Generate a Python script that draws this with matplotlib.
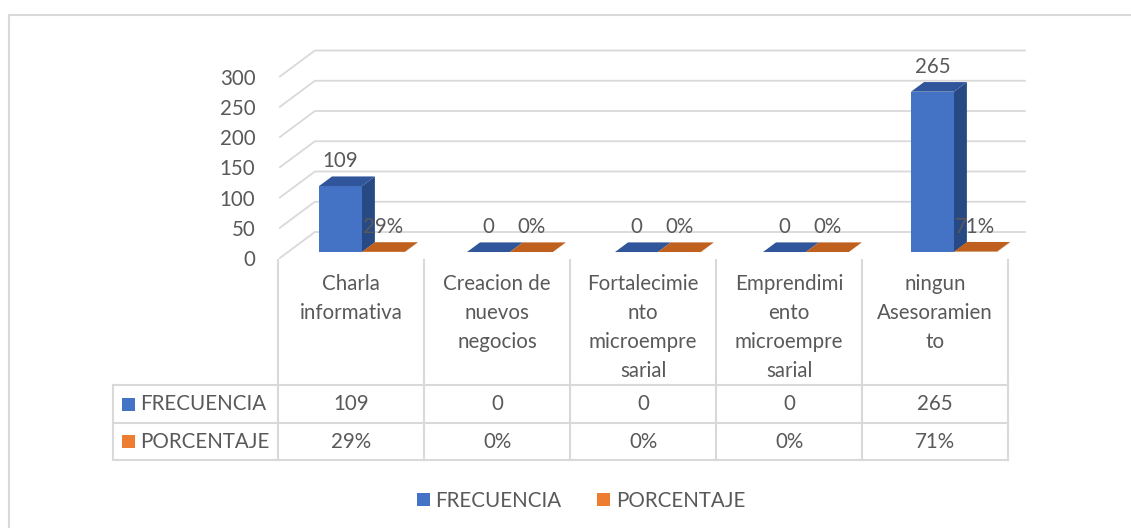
import matplotlib
matplotlib.use("Agg")
import matplotlib.pyplot as plt
from matplotlib.patches import Polygon, Patch, Rectangle
from matplotlib.lines import Line2D

# ---- data ----
categories = ["Charla\ninformativa", "Creacion de\nnuevos\nnegocios",
              "Fortalecimie\nnto\nmicroempre\nsarial",
              "Emprendimi\nento\nmicroempre\nsarial",
              "ningun\nAsesoramien\nto"]
frecuencia = [109, 0, 0, 0, 265]
porcentaje = [0.29, 0.0, 0.0, 0.0, 0.71]
series_names = ["FRECUENCIA", "PORCENTAJE"]
yticks = [0, 50, 100, 150, 200, 250, 300]

# ---- style ----
FONT = "Lato"
FS = 14.8
TXT = "#595959"
GRID = "#D9D9D9"
BLUE = ("#4472C4", "#30559A", "#284A84")    # front, top, side
ORANGE = ("#ED7D31", "#C0601E", "#A04F18")

W, H = 1131, 528
plt.rcParams['font.family'] = [FONT, 'DejaVu Sans']
fig = plt.figure(figsize=(W / 100, H / 100), dpi=100)


def fx(px):
    return px / W


def fy(py):
    return 1 - py / H


# data axes: x = category index (148 px/unit), y = value (0.605 px/unit)
XPX, YPX = 148.0, 0.605
X0PX, Y0PX = 353.9, 258.0
xlim = (-0.6, 4.75)
ylim = (-15, 360)
left = X0PX + xlim[0] * XPX
right = X0PX + xlim[1] * XPX
bottom = Y0PX - ylim[0] * YPX
top = Y0PX - ylim[1] * YPX
ax = fig.add_axes([fx(left), fy(bottom), (right - left) / W, (bottom - top) / H])
ax.set_xlim(*xlim)
ax.set_ylim(*ylim)
for s in ax.spines.values():
    s.set_visible(False)
ax.set_xticks([])
ax.set_yticks(yticks)
ax.set_yticklabels([str(v) for v in yticks], fontsize=FS, color=TXT)
ax.tick_params(axis='y', length=0, pad=7)
ax.patch.set_alpha(0)

# 3-D projection offsets for depth z in [0, 1]
DX = 35 / XPX
DY = 26 / YPX
Z0, Z1 = 0.23, 0.60
BW = 0.29
XRIGHT = 4.534


def P(x, y, z):
    return (x + z * DX, y + z * DY)


# gridlines: side-wall diagonal + back-wall horizontal
for v in yticks:
    ax.add_line(Line2D([P(-0.5, v, 0)[0], P(-0.5, v, 1)[0], XRIGHT],
                       [P(-0.5, v, 0)[1], P(-0.5, v, 1)[1], P(-0.5, v, 1)[1]],
                       color=GRID, lw=1.3, zorder=1))


def bar3d(x0, h, cols):
    x1 = x0 + BW
    front = [P(x0, 0, Z0), P(x1, 0, Z0), P(x1, h, Z0), P(x0, h, Z0)]
    topf = [P(x0, h, Z0), P(x1, h, Z0), P(x1, h, Z1), P(x0, h, Z1)]
    side = [P(x1, 0, Z0), P(x1, 0, Z1), P(x1, h, Z1), P(x1, h, Z0)]
    ax.add_patch(Polygon(side, closed=True, fc=cols[2], ec='none', zorder=3))
    ax.add_patch(Polygon(front, closed=True, fc=cols[0], ec='none', zorder=3))
    ax.add_patch(Polygon(topf, closed=True, fc=cols[1], ec='none', zorder=3))


def label(x0, h, txt):
    xc, yc = P(x0 + BW / 2, h, Z0)
    yb = P(x0, h, Z1)[1]
    ax.annotate(txt, (xc, yb), xytext=(0, 11), textcoords='offset points',
                ha='center', va='center', fontsize=FS, color=TXT, zorder=5)


for i in range(len(categories)):
    bar3d(i - BW, frecuencia[i], BLUE)
    bar3d(i, porcentaje[i], ORANGE)
for i in range(len(categories)):
    label(i - BW, frecuencia[i], f"{frecuencia[i]}")
    label(i, porcentaje[i], f"{porcentaje[i]:.0%}")

# ---- overlay for table / border ----
ov = fig.add_axes([0, 0, 1, 1], zorder=-1)
ov.set_xlim(0, W)
ov.set_ylim(H, 0)
ov.axis('off')

# outer chart border (only left and top visible)
ov.plot([9, 9, W + 5], [H + 5, 15, 15], color="#D9D9D9", lw=1.5)

cols_x = [278 + 146 * k for k in range(len(categories) + 1)]
T_TOP, R1, R2, R3 = 260, 385, 423, 460
TL = 113
TLW = 1.5
for x in cols_x:
    ov.plot([x, x], [T_TOP, R3], color=GRID, lw=TLW)
ov.plot([TL, TL], [R1, R3], color=GRID, lw=TLW)
for y in (R1, R2, R3):
    ov.plot([TL, cols_x[-1]], [y, y], color=GRID, lw=TLW)

for i, cat in enumerate(categories):
    xc = (cols_x[i] + cols_x[i + 1]) / 2
    ov.text(xc, 274, cat, ha='center', va='top', fontsize=FS, color=TXT,
            linespacing=1.57, multialignment='center')
    ov.text(xc, (R1 + R2) / 2, f"{frecuencia[i]}", ha='center', va='center',
            fontsize=FS, color=TXT)
    ov.text(xc, (R2 + R3) / 2, f"{porcentaje[i]:.0%}", ha='center', va='center',
            fontsize=FS, color=TXT)

for (ya, yb), name, c in zip(((R1, R2), (R2, R3)), series_names,
                             (BLUE[0], ORANGE[0])):
    ym = (ya + yb) / 2
    ov.add_patch(Rectangle((122, ym - 6.5), 13, 13, fc=c, ec='none'))
    ov.text(140, ym, name, ha='left', va='center', fontsize=FS, color=TXT)

# bottom legend
handles = [Patch(fc=BLUE[0], ec='none'), Patch(fc=ORANGE[0], ec='none')]
fig.legend(handles, series_names, loc='center', bbox_to_anchor=(fx(581), fy(501)),
           ncol=2, frameon=False, fontsize=FS, labelcolor=TXT,
           handlelength=0.63, handleheight=0.63, handletextpad=0.28,
           columnspacing=1.75)

fig.savefig("out.png", dpi=100, facecolor='white')
